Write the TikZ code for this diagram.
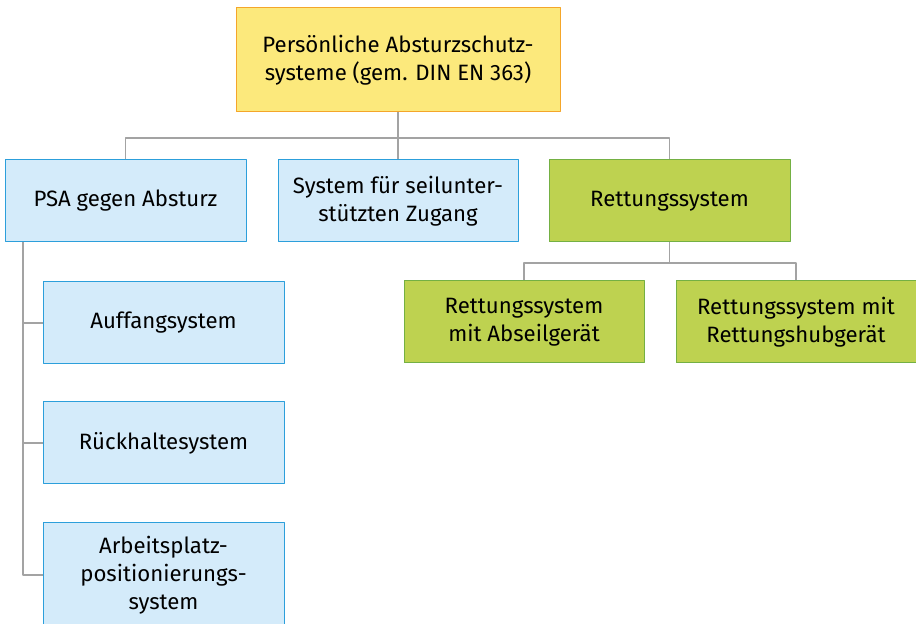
\documentclass[tikz,border=0pt]{standalone}
\usepackage{fontspec}
\setmainfont{Fira Sans}
\definecolor{bluefill}{HTML}{D4EBFA}
\definecolor{blueline}{HTML}{2C9FDB}
\definecolor{yellowfill}{HTML}{FCE97C}
\definecolor{yellowline}{HTML}{F4A62A}
\definecolor{greenfill}{HTML}{BED250}
\definecolor{greenline}{HTML}{74B043}
\definecolor{linkgray}{HTML}{A3A3A3}
\begin{document}
\begin{tikzpicture}[line join=bevel,
  box/.style={draw,line width=1bp,align=center,inner sep=0pt,minimum width=241bp,minimum height=82bp,
    font=\fontsize{22.2bp}{28bp}\selectfont},
  bluebox/.style={box,fill=bluefill,draw=blueline},
  greenbox/.style={box,fill=greenfill,draw=greenline},
  link/.style={draw=linkgray,line width=1.6bp}]
%%
\clip (0bp,0bp) rectangle (916bp,624bp);
\useasboundingbox (0bp,0bp) rectangle (916bp,624bp);
\node (root) at (398.0bp,564.0bp) [box,fill=yellowfill,draw=yellowline,minimum width=324bp,minimum height=104bp] {Persönliche Absturzschutz-\\systeme (gem. DIN EN 363)};
  \node (psa) at (125.5bp,423.0bp) [bluebox] {PSA gegen Absturz};
  \node (zugang) at (398.0bp,423.0bp) [bluebox,minimum width=240bp] {System für seilunter-\\stützten Zugang};
  \node (rettung) at (669.5bp,423.0bp) [greenbox] {Rettungssystem};
  \node (abseil) at (524.0bp,302.0bp) [greenbox,minimum width=240bp] {Rettungssystem\\mit Abseilgerät};
  \node (hub) at (796.0bp,302.0bp) [greenbox,minimum width=240bp] {Rettungssystem mit\\Rettungshubgerät};
  \node (auffang) at (163.5bp,301.0bp) [bluebox] {Auffangsystem};
  \node (rueckhalt) at (163.5bp,181.0bp) [bluebox] {Rückhaltesystem};
  \node (arbeit) at (163.5bp,49.0bp) [bluebox,minimum height=104bp] {Arbeitsplatz-\\positionierungs-\\system};
  \coordinate (bus) at (398.0bp,486.0bp);
  \coordinate (rbus) at (669.5bp,361.0bp);
  \coordinate (trunk) at (23.0bp,49.0bp);
  \draw [link] (root) -- (zugang);
  \draw [link] (psa.north) |- (bus) -| (rettung.north);
  \draw [link] (rettung) -- (rbus);
  \draw [link] (abseil.north) |- (rbus) -| (hub.north);
  \draw [link] (trunk |- psa.south) -- (trunk) -- (arbeit.west);
  \draw [link] (trunk |- auffang) -- (auffang.west);
  \draw [link] (trunk |- rueckhalt) -- (rueckhalt.west);
%
\end{tikzpicture}
\end{document}
